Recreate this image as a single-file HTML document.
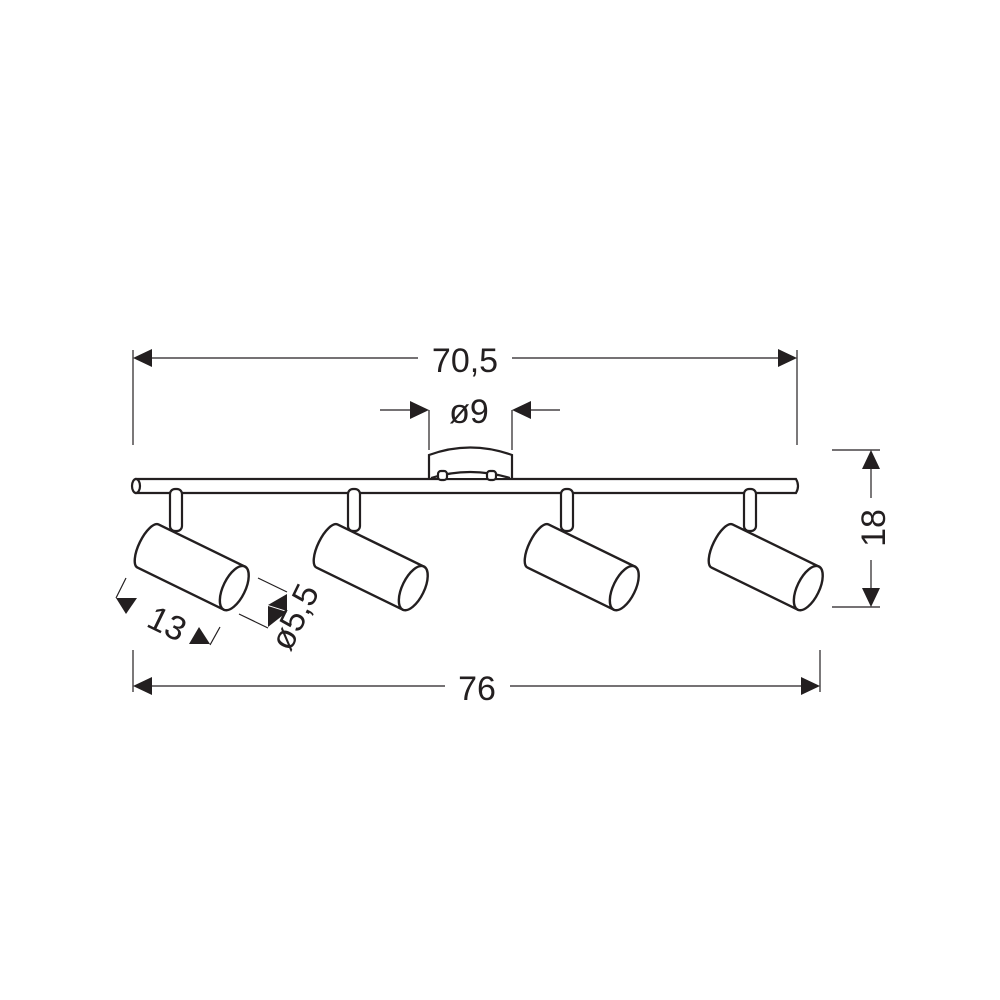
<!DOCTYPE html>
<html><head><meta charset="utf-8"><style>html,body{margin:0;padding:0;background:#fff}svg{display:block}text{font-family:"Liberation Sans",sans-serif;fill:#231f20}</style></head>
<body>
<svg width="1000" height="1000" viewBox="0 0 1000 1000" xmlns="http://www.w3.org/2000/svg">
<rect width="1000" height="1000" fill="#fff"/>
<g stroke="#231f20" fill="none" stroke-width="1.2">
<line x1="133" y1="350" x2="133" y2="445"/><line x1="797" y1="350" x2="797" y2="445"/>
<line x1="150" y1="358" x2="418" y2="358"/><line x1="512" y1="358" x2="780" y2="358"/>
<line x1="133" y1="650" x2="133" y2="692"/><line x1="820" y1="650" x2="820" y2="692"/>
<line x1="150" y1="686" x2="445" y2="686"/><line x1="510" y1="686" x2="803" y2="686"/>
<line x1="832" y1="450" x2="880" y2="450"/><line x1="832" y1="607" x2="880" y2="607"/>
<line x1="871" y1="468" x2="871" y2="498"/><line x1="871" y1="560" x2="871" y2="590"/>
<line x1="380" y1="410" x2="412" y2="410"/><line x1="529" y1="410" x2="560" y2="410"/>
<line x1="429" y1="410" x2="429" y2="450"/><line x1="512" y1="410" x2="512" y2="450"/>
<line x1="126" y1="578" x2="116" y2="598"/><line x1="220" y1="627" x2="210" y2="645"/>
<line x1="258" y1="578" x2="287" y2="592"/><line x1="239" y1="614" x2="268" y2="628"/>
</g>
<g fill="#231f20">
<polygon points="133,358 152,349 152,367"/><polygon points="797,358 778,349 778,367"/>
<polygon points="133,686 152,677 152,695"/><polygon points="820,686 801,677 801,695"/>
<polygon points="871,450 862,469 880,469"/><polygon points="871,607 862,588 880,588"/>
<polygon points="429,410 410,401 410,419"/><polygon points="512,410 531,401 531,419"/>
<polygon points="116,598 137,598 126,614"/><polygon points="210,644 199,627 189,644"/>
<polygon points="287,594 268,605 287,611"/><polygon points="268,606 268,627 287,612"/>
</g>
<g font-size="34">
<text x="465" y="372" text-anchor="middle">70,5</text>
<text x="477" y="700" text-anchor="middle">76</text>
<text x="469" y="423" text-anchor="middle">ø9</text>
<text transform="translate(885,528) rotate(-90)" text-anchor="middle">18</text>
<text transform="translate(162,634) rotate(26)" text-anchor="middle">13</text>
<text transform="translate(305,622) rotate(-64)" text-anchor="middle">ø5,5</text>
</g>
<g stroke="#231f20" fill="#fff" stroke-width="2.2">
<path d="M135,479 L796,479 Q800,486 796,493 L135,493"/>
<ellipse cx="136" cy="486" rx="4" ry="7"/>
<path d="M429,478 L429,455 Q470,440 512,455 L512,478"/>
<path d="M431,478 Q470,466 510,478" fill="none"/>
<rect x="438" y="471" width="9" height="9" rx="3"/><rect x="487" y="471" width="9" height="9" rx="3"/>
<rect x="170" y="489" width="12" height="42" rx="5"/>
<rect x="348" y="489" width="12" height="42" rx="5"/>
<rect x="561" y="489" width="12" height="42" rx="5"/>
<rect x="744" y="489" width="12" height="42" rx="5"/>
</g>
<defs>
<g id="cyl">
<path d="M0,-24 L96,-24 L96,24 L0,24 A9,24 0 0 1 0,-24 Z" fill="#fff"/>
<ellipse cx="96" cy="0" rx="11" ry="24" fill="#fff"/>
</g>
</defs>
<g stroke="#231f20" stroke-width="2.4">
<use href="#cyl" transform="translate(148,546) rotate(26)"/>
<use href="#cyl" transform="translate(327,546) rotate(26)"/>
<use href="#cyl" transform="translate(538,546) rotate(26)"/>
<use href="#cyl" transform="translate(722,546) rotate(26)"/>
</g>
</svg>
</body></html>
